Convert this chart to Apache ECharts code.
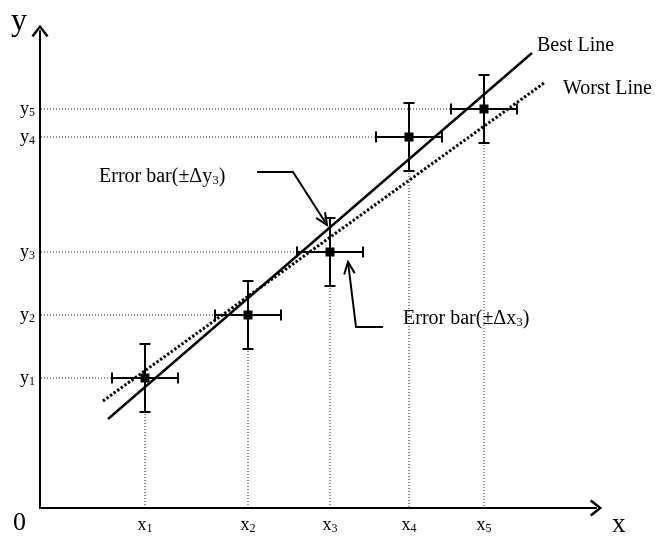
<!DOCTYPE html>
<html><head><meta charset="utf-8">
<script src="https://cdn.jsdelivr.net/npm/echarts@6/dist/echarts.min.js"></script>
<style>html,body{margin:0;padding:0;background:#fff}#c{width:658px;height:536px}</style>
</head><body><div id="c"></div>
<script>
// ---- data (arbitrary units of the schematic) ----
const pointSubscripts = ['1', '2', '3', '4', '5'];
const xValues = [105, 208, 290, 369, 444];
const yValues = [130, 193, 256, 371, 399];
const xErrors = [33, 33, 33, 33, 33];
const yErrors = [34, 34, 34, 34, 34];
const bestLineX = [68, 492];
const bestLineY = [89, 455];
const worstLineX = [63, 504];
const worstLineY = [107, 425];
const axisXMax = 556;
const axisYMax = 477;

const FONT = '"Liberation Serif", "Times New Roman", serif';
const chart = echarts.init(document.getElementById('c'), null, { renderer: 'canvas' });

const points = xValues.map((x, i) => [x, yValues[i], xErrors[i], yErrors[i]]);
const chevron = 'path://M8,0 L16,10 L14.2,11.6 L8,3.4 L1.8,11.6 L0,10 Z';

const richTick = {
  b: { fontSize: 18, fontFamily: FONT, color: '#000', lineHeight: 20 },
  s: { fontSize: 12, fontFamily: FONT, color: '#000', lineHeight: 12, padding: [8, 0, 0, 0], verticalAlign: 'top' }
};

function arrowHead(tip, from, len, spread) {
  const dx = tip[0] - from[0], dy = tip[1] - from[1];
  const a = Math.atan2(dy, dx);
  const p1 = [tip[0] - len * Math.cos(a - spread), tip[1] - len * Math.sin(a - spread)];
  const p2 = [tip[0] - len * Math.cos(a + spread), tip[1] - len * Math.sin(a + spread)];
  return [p1, tip, p2];
}

const ann1 = [[257, 172], [293, 172], [327, 225]];
const ann2 = [[383, 327], [356, 327], [348, 262]];
const annRich = {
  a: { fontSize: 20, fontFamily: FONT, fill: '#000', lineHeight: 22 },
  s: { fontSize: 13, fontFamily: FONT, fill: '#000', lineHeight: 13, padding: [8, 0, 0, 0], verticalAlign: 'top' }
};

const option = {
  animation: false,
  backgroundColor: '#fff',
  grid: { left: 40, right: 62, top: 31, bottom: 28 },
  xAxis: {
    type: 'value', min: 0, max: axisXMax,
    splitLine: { show: false },
    axisTick: { show: false },
    axisLine: { show: true, lineStyle: { color: '#000', width: 2 }, symbol: ['none', chevron], symbolSize: [17, 12.3] },
    axisLabel: {
      customValues: xValues, margin: 7,
      formatter: function (v) { const i = xValues.indexOf(v); return '{b|x}{s|' + pointSubscripts[i] + '}'; },
      rich: richTick
    }
  },
  yAxis: {
    type: 'value', min: 0, max: axisYMax,
    splitLine: { show: false },
    axisTick: { show: false },
    axisLine: { show: true, lineStyle: { color: '#000', width: 2 }, symbol: ['none', chevron], symbolSize: [17, 12.3] },
    axisLabel: {
      customValues: yValues, margin: 5,
      formatter: function (v) { const i = yValues.indexOf(v); return '{b|y}{s|' + pointSubscripts[i] + '}'; },
      rich: richTick
    }
  },
  series: [
    {
      type: 'custom', name: 'guides', z: 1, silent: true,
      data: points,
      renderItem: function (params, api) {
        const x = api.value(0), y = api.value(1);
        const c = api.coord([x, y]);
        const ax = api.coord([0, y]);
        const ay = api.coord([x, 0]);
        const st = { stroke: '#222', lineWidth: 1, lineDash: [1, 2] };
        return {
          type: 'group', children: [
            { type: 'line', shape: { x1: ax[0] + 1, y1: c[1], x2: c[0], y2: c[1] }, style: st },
            { type: 'line', shape: { x1: c[0], y1: c[1], x2: c[0], y2: ay[1] - 1 }, style: st }
          ]
        };
      }
    },
    {
      type: 'line', name: 'Worst Line', z: 2, silent: true,
      data: worstLineX.map((x, i) => [x, worstLineY[i]]),
      symbol: 'none',
      lineStyle: { color: '#000', width: 3, type: [2.4, 2], cap: 'butt' }
    },
    {
      type: 'line', name: 'Best Line', z: 2, silent: true,
      data: bestLineX.map((x, i) => [x, bestLineY[i]]),
      symbol: 'none',
      lineStyle: { color: '#000', width: 2.4 }
    },
    {
      type: 'custom', name: 'errorbars', z: 3, silent: true,
      data: points,
      renderItem: function (params, api) {
        const x = api.value(0), y = api.value(1), ex = api.value(2), ey = api.value(3);
        const c = api.coord([x, y]);
        const l = api.coord([x - ex, y]), r = api.coord([x + ex, y]);
        const t = api.coord([x, y + ey]), b = api.coord([x, y - ey]);
        const cap = 5.5;
        const st = { stroke: '#000', lineWidth: 2 };
        return {
          type: 'group', children: [
            { type: 'line', shape: { x1: l[0], y1: l[1], x2: r[0], y2: r[1] }, style: st },
            { type: 'line', shape: { x1: t[0], y1: t[1], x2: b[0], y2: b[1] }, style: st },
            { type: 'line', shape: { x1: l[0], y1: l[1] - cap, x2: l[0], y2: l[1] + cap }, style: st },
            { type: 'line', shape: { x1: r[0], y1: r[1] - cap, x2: r[0], y2: r[1] + cap }, style: st },
            { type: 'line', shape: { x1: t[0] - cap, y1: t[1], x2: t[0] + cap, y2: t[1] }, style: st },
            { type: 'line', shape: { x1: b[0] - cap, y1: b[1], x2: b[0] + cap, y2: b[1] }, style: st },
            { type: 'rect', shape: { x: c[0] - 4.5, y: c[1] - 4.5, width: 9, height: 9 }, style: { fill: '#000' } }
          ]
        };
      }
    }
  ],
  graphic: [
    { type: 'text', left: 11, top: 6, style: { text: 'y', font: '32px ' + FONT, fill: '#000' } },
    { type: 'text', left: 13, top: 510, style: { text: '0', font: '26px ' + FONT, fill: '#000' } },
    { type: 'text', left: 612, top: 511, style: { text: 'x', font: '27px ' + FONT, fill: '#000' } },
    { type: 'text', left: 537, top: 36, style: { text: 'Best Line', font: '20px ' + FONT, fill: '#000' } },
    { type: 'text', left: 563, top: 79, style: { text: 'Worst Line', font: '20px ' + FONT, fill: '#000' } },
    { type: 'text', left: 99, top: 166, style: { text: '{a|Error bar(±Δy}{s|3}{a|)}', rich: annRich } },
    { type: 'text', left: 403, top: 308, style: { text: '{a|Error bar(±Δx}{s|3}{a|)}', rich: annRich } },
    { type: 'polyline', shape: { points: ann1 }, style: { stroke: '#000', lineWidth: 2, fill: null } },
    { type: 'polyline', shape: { points: arrowHead(ann1[2], ann1[1], 13, 0.42) }, style: { stroke: '#000', lineWidth: 2, fill: null } },
    { type: 'polyline', shape: { points: ann2 }, style: { stroke: '#000', lineWidth: 2, fill: null } },
    { type: 'polyline', shape: { points: arrowHead(ann2[2], ann2[1], 13, 0.42) }, style: { stroke: '#000', lineWidth: 2, fill: null } }
  ]
};
chart.setOption(option);
</script>
</body></html>
